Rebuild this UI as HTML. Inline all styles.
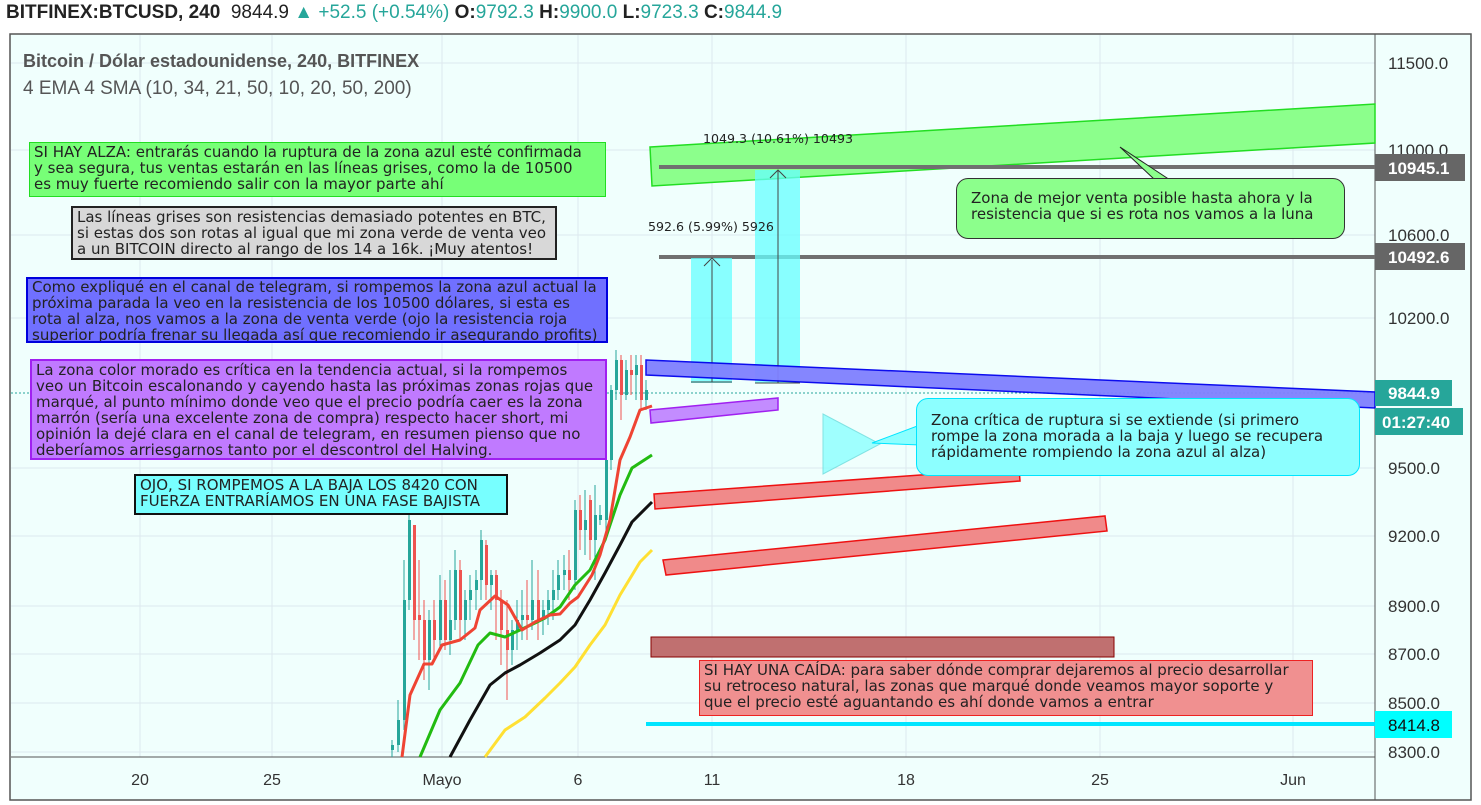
<!DOCTYPE html>
<html><head><meta charset="utf-8"><style>
body{margin:0;width:1481px;height:805px;background:#fff;font-family:"Liberation Sans",sans-serif;overflow:hidden;position:relative}
.hdr{position:absolute;left:6px;top:2px;font-size:19px;color:#222;white-space:nowrap}
.hdr b{font-weight:bold}
.g{color:#26a69a}
.box{position:absolute;font-family:"DejaVu Sans",sans-serif;font-size:15px;line-height:16px;color:#222;padding:1px 4px;box-sizing:border-box;white-space:nowrap;overflow:hidden}
</style></head><body>
<div class="hdr"><b>BITFINEX:BTCUSD, 240</b>&nbsp; 9844.9 <span class="g">▲ +52.5 (+0.54%)</span> <b>O:</b><span class="g">9792.3</span> <b>H:</b><span class="g">9900.0</span> <b>L:</b><span class="g">9723.3</span> <b>C:</b><span class="g">9844.9</span></div>
<svg width="1481" height="805" style="position:absolute;left:0;top:0" xmlns="http://www.w3.org/2000/svg">
<rect x="10" y="34" width="1461" height="766" fill="#f0fffd" stroke="#555" stroke-width="1.5"/>
<g stroke="#dde8ee" stroke-width="1">
<line x1="140" y1="35" x2="140" y2="757"/><line x1="272" y1="35" x2="272" y2="757"/><line x1="442" y1="35" x2="442" y2="757"/><line x1="578" y1="35" x2="578" y2="757"/><line x1="712" y1="35" x2="712" y2="757"/><line x1="906" y1="35" x2="906" y2="757"/><line x1="1100" y1="35" x2="1100" y2="757"/><line x1="1293" y1="35" x2="1293" y2="757"/>
<line x1="11" y1="63" x2="1375" y2="63"/><line x1="11" y1="150" x2="1375" y2="150"/><line x1="11" y1="235" x2="1375" y2="235"/><line x1="11" y1="318" x2="1375" y2="318"/><line x1="11" y1="468" x2="1375" y2="468"/><line x1="11" y1="536" x2="1375" y2="536"/><line x1="11" y1="606" x2="1375" y2="606"/><line x1="11" y1="654" x2="1375" y2="654"/><line x1="11" y1="703" x2="1375" y2="703"/><line x1="11" y1="752" x2="1375" y2="752"/>
</g>
<line x1="1375" y1="34" x2="1375" y2="800" stroke="#555"/>
<line x1="11" y1="757" x2="1375" y2="757" stroke="#555"/>
<g font-size="16" fill="#333" text-anchor="middle">
<text x="140" y="785">20</text><text x="272" y="785">25</text><text x="442" y="785">Mayo</text><text x="578" y="785">6</text><text x="712" y="785">11</text><text x="906" y="785">18</text><text x="1100" y="785">25</text><text x="1293" y="785">Jun</text>
</g>
<g font-size="17" fill="#333">
<text x="1388" y="69">11500.0</text><text x="1388" y="156">11000.0</text><text x="1388" y="241">10600.0</text><text x="1388" y="324">10200.0</text><text x="1388" y="474">9500.0</text><text x="1388" y="542">9200.0</text><text x="1388" y="612">8900.0</text><text x="1388" y="660">8700.0</text><text x="1388" y="709">8500.0</text><text x="1388" y="758">8300.0</text>
</g>
<line x1="11" y1="393" x2="1375" y2="393" stroke="#26a69a" stroke-dasharray="2,2"/>
<polygon points="650,147 1375,104 1375,143 652,186" fill="#8cff8c" stroke="#22dd22" stroke-width="1.5"/>
<line x1="659" y1="167" x2="1375" y2="167" stroke="#707070" stroke-width="4"/>
<line x1="659" y1="257" x2="1375" y2="257" stroke="#707070" stroke-width="4"/>
<rect x="691" y="258" width="41" height="125" fill="#66ffff" opacity="0.75"/>
<rect x="755" y="170" width="45" height="213" fill="#66ffff" opacity="0.75"/>
<g stroke="#444" stroke-width="1" fill="none">
<line x1="712" y1="260" x2="712" y2="382"/><polyline points="704,266 712,258 720,266"/><line x1="691" y1="382" x2="732" y2="382"/>
<line x1="778" y1="170" x2="778" y2="383"/><polyline points="770,178 778,170 786,178"/><line x1="755" y1="383" x2="800" y2="383"/>
</g>
<text x="703" y="143" font-size="12.6" fill="#222" font-family="DejaVu Sans">1049.3 (10.61%) 10493</text>
<text x="648" y="231" font-size="12.6" fill="#222" font-family="DejaVu Sans">592.6 (5.99%) 5926</text>
<polygon points="646,360 1375,392 1375,408 646,375" fill="#8080ff" stroke="#0000ee" stroke-width="1.5" opacity="0.95"/>
<polygon points="650,410 778,398 778,410 651,423" fill="#c38cff" stroke="#a020f0" stroke-width="1.5"/>
<polygon points="654,494 1019,468 1020,481 655,509" fill="#f08a8a" stroke="#ee1111" stroke-width="1.5"/>
<polygon points="663,560 1105,516 1107,531 666,575" fill="#f08a8a" stroke="#ee1111" stroke-width="1.5"/>
<rect x="651" y="637" width="463" height="20" fill="#c07070" stroke="#880000"/>
<line x1="646" y1="724" x2="1375" y2="724" stroke="#00e5ff" stroke-width="4"/>
<polygon points="823,414 823,474 880,444" fill="#8cffff" stroke="#66dddd" opacity="0.8"/>
<polygon points="1120,147 1155,180 1170,180" fill="#8cff8c" stroke="#222"/>
<polygon points="872,443 920,425 920,445" fill="#8cffff" stroke="#00e5ff"/>
<g>
<line x1="392" y1="740" x2="392" y2="757" stroke="#26a69a"/><rect x="391" y="745" width="3" height="5" fill="#26a69a"/>
<line x1="398" y1="700" x2="398" y2="752" stroke="#26a69a"/><rect x="397" y="720" width="3" height="25" fill="#26a69a"/>
<line x1="404" y1="560" x2="404" y2="730" stroke="#26a69a"/><rect x="403" y="600" width="3" height="120" fill="#26a69a"/>
<line x1="409" y1="515" x2="409" y2="610" stroke="#26a69a"/><rect x="408" y="520" width="3" height="80" fill="#26a69a"/>
<line x1="414" y1="535" x2="414" y2="640" stroke="#ef5350"/><rect x="413" y="525" width="3" height="95" fill="#ef5350"/>
<line x1="419" y1="560" x2="419" y2="660" stroke="#ef5350"/><rect x="418" y="615" width="3" height="5" fill="#ef5350"/>
<line x1="424" y1="600" x2="424" y2="680" stroke="#ef5350"/><rect x="423" y="620" width="3" height="40" fill="#ef5350"/>
<line x1="429" y1="610" x2="429" y2="690" stroke="#26a69a"/><rect x="428" y="620" width="3" height="40" fill="#26a69a"/>
<line x1="434" y1="600" x2="434" y2="660" stroke="#ef5350"/><rect x="433" y="620" width="3" height="20" fill="#ef5350"/>
<line x1="440" y1="575" x2="440" y2="650" stroke="#26a69a"/><rect x="439" y="600" width="3" height="40" fill="#26a69a"/>
<line x1="445" y1="580" x2="445" y2="650" stroke="#ef5350"/><rect x="444" y="600" width="3" height="40" fill="#ef5350"/>
<line x1="450" y1="570" x2="450" y2="655" stroke="#26a69a"/><rect x="449" y="620" width="3" height="20" fill="#26a69a"/>
<line x1="455" y1="550" x2="455" y2="630" stroke="#26a69a"/><rect x="454" y="570" width="3" height="50" fill="#26a69a"/>
<line x1="460" y1="560" x2="460" y2="640" stroke="#ef5350"/><rect x="459" y="570" width="3" height="50" fill="#ef5350"/>
<line x1="465" y1="590" x2="465" y2="640" stroke="#26a69a"/><rect x="464" y="600" width="3" height="20" fill="#26a69a"/>
<line x1="470" y1="575" x2="470" y2="620" stroke="#26a69a"/><rect x="469" y="590" width="3" height="10" fill="#26a69a"/>
<line x1="476" y1="570" x2="476" y2="610" stroke="#26a69a"/><rect x="475" y="580" width="3" height="10" fill="#26a69a"/>
<line x1="481" y1="530" x2="481" y2="600" stroke="#26a69a"/><rect x="480" y="540" width="3" height="40" fill="#26a69a"/>
<line x1="486" y1="540" x2="486" y2="600" stroke="#ef5350"/><rect x="485" y="545" width="3" height="40" fill="#ef5350"/>
<line x1="491" y1="570" x2="491" y2="610" stroke="#26a69a"/><rect x="490" y="575" width="3" height="10" fill="#26a69a"/>
<line x1="496" y1="570" x2="496" y2="640" stroke="#ef5350"/><rect x="495" y="575" width="3" height="25" fill="#ef5350"/>
<line x1="501" y1="590" x2="501" y2="665" stroke="#ef5350"/><rect x="500" y="600" width="3" height="30" fill="#ef5350"/>
<line x1="507" y1="600" x2="507" y2="700" stroke="#ef5350"/><rect x="506" y="630" width="3" height="20" fill="#ef5350"/>
<line x1="512" y1="620" x2="512" y2="665" stroke="#26a69a"/><rect x="511" y="630" width="3" height="20" fill="#26a69a"/>
<line x1="517" y1="600" x2="517" y2="650" stroke="#26a69a"/><rect x="516" y="620" width="3" height="10" fill="#26a69a"/>
<line x1="522" y1="590" x2="522" y2="640" stroke="#26a69a"/><rect x="521" y="615" width="3" height="5" fill="#26a69a"/>
<line x1="527" y1="580" x2="527" y2="640" stroke="#ef5350"/><rect x="526" y="615" width="3" height="5" fill="#ef5350"/>
<line x1="532" y1="560" x2="532" y2="630" stroke="#26a69a"/><rect x="531" y="600" width="3" height="20" fill="#26a69a"/>
<line x1="538" y1="570" x2="538" y2="640" stroke="#ef5350"/><rect x="537" y="600" width="3" height="20" fill="#ef5350"/>
<line x1="543" y1="600" x2="543" y2="635" stroke="#26a69a"/><rect x="542" y="610" width="3" height="10" fill="#26a69a"/>
<line x1="548" y1="590" x2="548" y2="625" stroke="#26a69a"/><rect x="547" y="600" width="3" height="10" fill="#26a69a"/>
<line x1="553" y1="570" x2="553" y2="620" stroke="#26a69a"/><rect x="552" y="590" width="3" height="10" fill="#26a69a"/>
<line x1="558" y1="560" x2="558" y2="600" stroke="#26a69a"/><rect x="557" y="575" width="3" height="15" fill="#26a69a"/>
<line x1="564" y1="555" x2="564" y2="590" stroke="#26a69a"/><rect x="563" y="570" width="3" height="5" fill="#26a69a"/>
<line x1="569" y1="550" x2="569" y2="600" stroke="#ef5350"/><rect x="568" y="570" width="3" height="10" fill="#ef5350"/>
<line x1="575" y1="500" x2="575" y2="590" stroke="#26a69a"/><rect x="574" y="510" width="3" height="70" fill="#26a69a"/>
<line x1="580" y1="495" x2="580" y2="550" stroke="#ef5350"/><rect x="579" y="510" width="3" height="20" fill="#ef5350"/>
<line x1="585" y1="490" x2="585" y2="555" stroke="#26a69a"/><rect x="584" y="520" width="3" height="10" fill="#26a69a"/>
<line x1="590" y1="495" x2="590" y2="560" stroke="#ef5350"/><rect x="589" y="500" width="3" height="40" fill="#ef5350"/>
<line x1="595" y1="485" x2="595" y2="580" stroke="#26a69a"/><rect x="594" y="515" width="3" height="25" fill="#26a69a"/>
<line x1="600" y1="505" x2="600" y2="525" stroke="#26a69a"/><rect x="599" y="515" width="3" height="5" fill="#26a69a"/>
<line x1="606" y1="450" x2="606" y2="530" stroke="#26a69a"/><rect x="605" y="460" width="3" height="60" fill="#26a69a"/>
<line x1="611" y1="385" x2="611" y2="470" stroke="#26a69a"/><rect x="610" y="390" width="3" height="70" fill="#26a69a"/>
<line x1="616" y1="350" x2="616" y2="400" stroke="#26a69a"/><rect x="615" y="360" width="3" height="30" fill="#26a69a"/>
<line x1="621" y1="355" x2="621" y2="420" stroke="#ef5350"/><rect x="620" y="360" width="3" height="35" fill="#ef5350"/>
<line x1="626" y1="360" x2="626" y2="400" stroke="#26a69a"/><rect x="625" y="370" width="3" height="25" fill="#26a69a"/>
<line x1="631" y1="355" x2="631" y2="395" stroke="#ef5350"/><rect x="630" y="370" width="3" height="5" fill="#ef5350"/>
<line x1="636" y1="355" x2="636" y2="400" stroke="#26a69a"/><rect x="635" y="365" width="3" height="10" fill="#26a69a"/>
<line x1="641" y1="355" x2="641" y2="410" stroke="#ef5350"/><rect x="640" y="365" width="3" height="35" fill="#ef5350"/>
<line x1="646" y1="380" x2="646" y2="410" stroke="#26a69a"/><rect x="645" y="390" width="3" height="10" fill="#26a69a"/>
</g>
<g fill="none" stroke-width="3" stroke-linejoin="round">
<polyline stroke="#ffe033" points="485,757 505,730 525,717 545,698 560,683 575,667 590,645 605,625 620,595 640,562 652,550"/>
<polyline stroke="#111" points="450,757 470,720 490,685 505,673 520,665 540,653 560,640 575,625 590,600 605,573 620,545 632,522 652,502"/>
<polyline stroke="#22bb11" points="420,757 440,710 460,683 478,645 490,633 505,637 520,630 535,623 545,618 560,607 575,585 590,570 605,540 620,495 632,468 652,455"/>
<polyline stroke="#ef4433" points="402,757 410,695 424,664 432,664 442,645 460,640 475,628 480,610 495,596 508,605 522,630 535,622 550,615 560,614 570,603 578,597 592,575 600,555 610,520 620,460 630,437 640,410 652,406"/>
</g>
<rect x="1375" y="154" width="90" height="27" fill="#666"/><text x="1388" y="174" font-size="17" font-weight="bold" fill="#fff">10945.1</text>
<rect x="1375" y="243" width="90" height="27" fill="#666"/><text x="1388" y="263" font-size="17" font-weight="bold" fill="#fff">10492.6</text>
<rect x="1375" y="380" width="77" height="26" fill="#26a69a"/><text x="1388" y="399" font-size="17" font-weight="bold" fill="#fff">9844.9</text>
<rect x="1375" y="408" width="88" height="27" fill="#26a69a"/><text x="1382" y="428" font-size="17" font-weight="bold" fill="#fff">01:27:40</text>
<rect x="1375" y="711" width="77" height="27" fill="#00ffff"/><text x="1388" y="731" font-size="17" fill="#111">8414.8</text>
</svg>
<div style="position:absolute;left:23px;top:51px;font-size:18px;font-weight:bold;color:#555">Bitcoin / Dólar estadounidense, 240, BITFINEX</div>
<div style="position:absolute;left:23px;top:78px;font-size:19px;color:#555">4 EMA 4 SMA (10, 34, 21, 50, 10, 20, 50, 200)</div>
<div class="box" style="left:29px;top:142px;width:577px;height:55px;background:#77ff77;border:1.5px solid #22dd22">SI HAY ALZA: entrarás cuando la ruptura de la zona azul esté confirmada<br>y sea segura, tus ventas estarán en las líneas grises, como la de 10500<br>es muy fuerte recomiendo salir con la mayor parte ahí</div>
<div class="box" style="left:71px;top:206px;width:486px;height:54px;background:#d8d8d8;border:2px solid #222">Las líneas grises son resistencias demasiado potentes en BTC,<br>si estas dos son rotas al igual que mi zona verde de venta veo<br>a un BITCOIN directo al rango de los 14 a 16k. ¡Muy atentos!</div>
<div class="box" style="left:26px;top:277px;width:582px;height:66px;background:#7070ff;border:2px solid #0000dd;padding-top:0">Como expliqué en el canal de telegram, si rompemos la zona azul actual la<br>próxima parada la veo en la resistencia de los 10500 dólares, si esta es<br>rota al alza, nos vamos a la zona de venta verde (ojo la resistencia roja<br>superior podría frenar su llegada así que recomiendo ir asegurando profits)</div>
<div class="box" style="left:30px;top:359px;width:577px;height:101px;background:#c07aff;border:2px solid #a020f0">La zona color morado es crítica en la tendencia actual, si la rompemos<br>veo un Bitcoin escalonando y cayendo hasta las próximas zonas rojas que<br>marqué, al punto mínimo donde veo que el precio podría caer es la zona<br>marrón (sería una excelente zona de compra) respecto hacer short, mi<br>opinión la dejé clara en el canal de telegram, en resumen pienso que no<br>deberíamos arriesgarnos tanto por el descontrol del Halving.</div>
<div class="box" style="left:134px;top:474px;width:374px;height:41px;background:#77ffff;border:2px solid #111">OJO, SI ROMPEMOS A LA BAJA LOS 8420 CON<br>FUERZA ENTRARÍAMOS EN UNA FASE BAJISTA</div>
<div class="box" style="left:956px;top:178px;width:389px;height:61px;background:#8cff8c;border:1.5px solid #333;border-radius:12px;padding:11px 14px">Zona de mejor venta posible hasta ahora y la<br>resistencia que si es rota nos vamos a la luna</div>
<div class="box" style="left:916px;top:398px;width:444px;height:78px;background:#8cffff;border:1.5px solid #00e5ff;border-radius:12px;padding:13px 14px">Zona crítica de ruptura si se extiende (si primero<br>rompe la zona morada a la baja y luego se recupera<br>rápidamente rompiendo la zona azul al alza)</div>
<div class="box" style="left:699px;top:660px;width:614px;height:56px;background:#f09090;border:1.5px solid #ee2222">SI HAY UNA CAÍDA: para saber dónde comprar dejaremos al precio desarrollar<br>su retroceso natural, las zonas que marqué donde veamos mayor soporte y<br>que el precio esté aguantando es ahí donde vamos a entrar</div>
</body></html>
